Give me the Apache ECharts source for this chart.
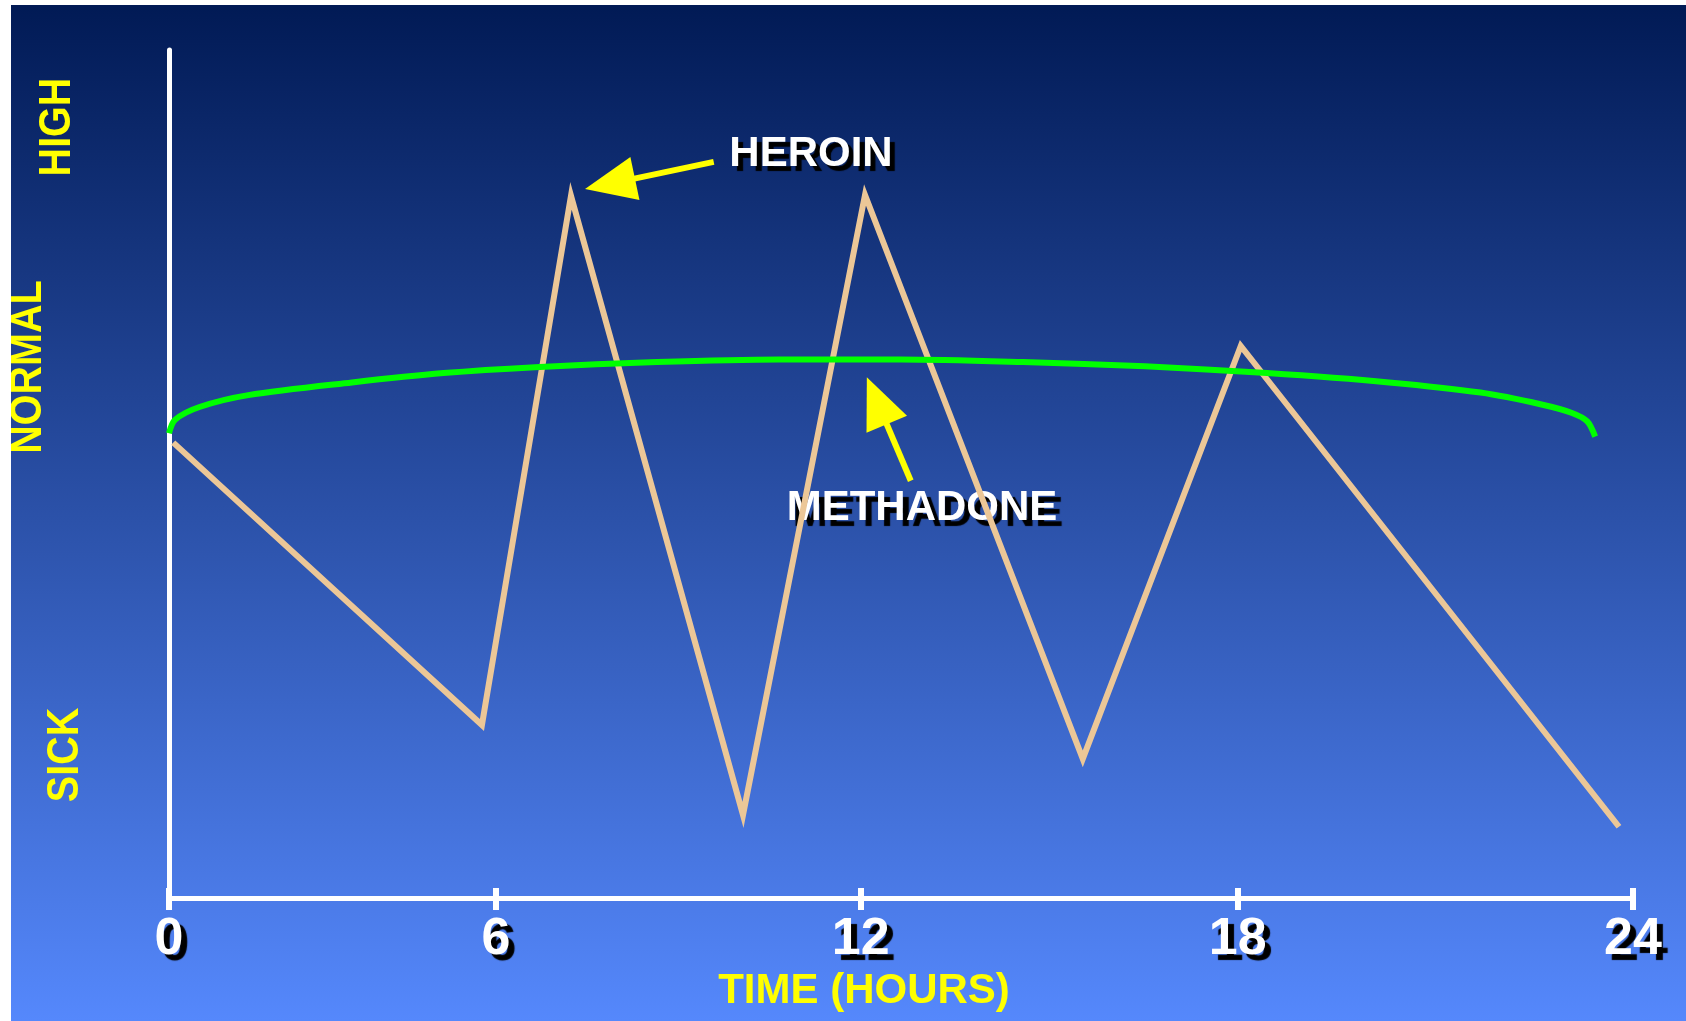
<!DOCTYPE html>
<html>
<head>
<meta charset="utf-8">
<title>Heroin vs Methadone</title>
<script src="https://cdn.jsdelivr.net/npm/echarts@6/dist/echarts.min.js"></script>
<style>
  html, body { margin: 0; padding: 0; background: #ffffff; width: 1686px; height: 1021px; overflow: hidden; }
  #chart { position: absolute; left: 11px; top: 5px; width: 1675px; height: 1016px; }
</style>
</head>
<body>
<div id="chart"></div>
<script>
// Hour ticks along the time axis (as drawn on the slide) and their labels
const tickPos = [0, 5.36, 11.34, 17.52, 24];
const tickLabels = ['0', '6', '12', '18', '24'];

// Heroin: sharp highs and sick lows between doses
const heroinX = [0.07, 5.13, 6.59, 9.41, 11.41, 14.98, 17.57, 23.77];
const heroinY = [53.7, 20.4, 82.8, 9.8, 82.9, 16.4, 65.1, 8.4];

// Methadone: a steady level through the day
const methadoneX = [0, 0.1, 0.5, 1.3, 3.0, 4.5, 6.0, 8.0, 10.0, 12.0, 14.0, 16.0, 18.0, 20.0, 21.5, 22.5, 23.0, 23.25, 23.38];
const methadoneY = [54.8, 56.4, 57.9, 59.3, 60.8, 61.9, 62.6, 63.2, 63.5, 63.5, 63.2, 62.7, 61.9, 60.8, 59.6, 58.2, 57.2, 56.2, 54.4];

// Callout arrows: [tailX, tailY, tipX, tipY]
const heroinArrow = [8.93, 86.8, 6.82, 83.6];
const methadoneArrow = [12.16, 49.2, 11.44, 61.4];

const FONT = "'Liberation Sans', Arial, Helvetica, sans-serif";
const YELLOW = '#ffff00';

const zip = (xs, ys) => xs.map((x, i) => [x, ys[i]]);

const chart = echarts.init(document.getElementById('chart'), null, { renderer: 'canvas' });

function renderArrow(params, api) {
  const a = api.coord([api.value(0), api.value(1)]);
  const b = api.coord([api.value(2), api.value(3)]);
  const dx = b[0] - a[0], dy = b[1] - a[1];
  const len = Math.hypot(dx, dy);
  const ux = dx / len, uy = dy / len;
  const headLen = 51, headHalf = 22;
  const base = [b[0] - ux * headLen, b[1] - uy * headLen];
  return {
    type: 'group',
    children: [
      {
        type: 'line',
        shape: { x1: a[0], y1: a[1], x2: base[0] + ux * 3, y2: base[1] + uy * 3 },
        style: { stroke: YELLOW, lineWidth: 6 }
      },
      {
        type: 'polygon',
        shape: { points: [b, [base[0] - uy * headHalf, base[1] + ux * headHalf], [base[0] + uy * headHalf, base[1] - ux * headHalf]] },
        style: { fill: YELLOW }
      }
    ]
  };
}

const sideLabel = (text, x, y) => ({
  type: 'text',
  x: x, y: y,
  rotation: Math.PI / 2,
  scaleY: 1.12,
  style: {
    text: text,
    fill: YELLOW,
    font: 'bold 39.5px ' + FONT,
    textAlign: 'center',
    textVerticalAlign: 'middle'
  }
});

const callout = (text, x, y, off) => ({
  type: 'text',
  x: x, y: y,
  style: {
    text: text,
    fill: '#ffffff',
    font: 'bold 42px ' + FONT,
    textAlign: 'center',
    textVerticalAlign: 'middle',
    textShadowColor: '#000000',
    textShadowOffsetX: off,
    textShadowOffsetY: off,
    textShadowBlur: 1
  }
});

const option = {
  animation: false,
  backgroundColor: {
    type: 'linear', x: 0, y: 0, x2: 0, y2: 1,
    colorStops: [
      { offset: 0, color: '#011a55' },
      { offset: 1, color: '#5588fc' }
    ]
  },
  grid: { left: 158, right: 53, top: 45, bottom: 123, containLabel: false },
  xAxis: [
    {
      type: 'value', min: 0, max: 24, position: 'bottom',
      axisLine: { show: true, lineStyle: { color: '#ffffff', width: 5 } },
      axisTick: { show: true, inside: false, length: 12, customValues: tickPos, lineStyle: { color: '#ffffff', width: 6 } },
      axisLabel: {
        show: true,
        customValues: tickPos,
        formatter: (v) => tickLabels[tickPos.indexOf(v)],
        margin: 16,
        color: '#ffffff',
        fontFamily: FONT,
        fontWeight: 'bold',
        fontSize: 52,
        textShadowColor: '#000000',
        textShadowOffsetX: 6,
        textShadowOffsetY: 6,
        textShadowBlur: 1
      },
      splitLine: { show: false }
    },
    {
      type: 'value', min: 0, max: 24, position: 'bottom',
      axisLine: { show: false },
      axisTick: { show: true, inside: true, length: 10, customValues: tickPos, lineStyle: { color: '#ffffff', width: 6 } },
      axisLabel: { show: false },
      splitLine: { show: false }
    }
  ],
  yAxis: {
    type: 'value', min: 0, max: 100,
    axisLine: { show: true, lineStyle: { color: '#ffffff', width: 5 } },
    axisTick: { show: false },
    axisLabel: { show: false },
    splitLine: { show: false }
  },
  graphic: [
    sideLabel('HIGH', 47, 122),
    sideLabel('NORMAL', 18, 362),
    sideLabel('SICK', 55, 750),
    callout('HEROIN', 800, 149, 5),
    callout('METHADONE', 911, 503, 6),
    {
      type: 'text',
      x: 853, y: 986,
      style: {
        text: 'TIME (HOURS)',
        fill: YELLOW,
        font: 'bold 42px ' + FONT,
        textAlign: 'center',
        textVerticalAlign: 'middle'
      }
    }
  ],
  series: [
    {
      name: 'Heroin',
      type: 'line',
      data: zip(heroinX, heroinY),
      symbol: 'none',
      smooth: false,
      clip: false,
      lineStyle: { color: '#ecc797', width: 6, cap: 'butt', join: 'miter' },
      z: 3
    },
    {
      name: 'Methadone',
      type: 'line',
      data: zip(methadoneX, methadoneY),
      symbol: 'none',
      smooth: 0.3,
      clip: false,
      lineStyle: { color: '#00ff00', width: 6 },
      z: 4
    },
    {
      name: 'Callouts',
      type: 'custom',
      renderItem: renderArrow,
      clip: false,
      encode: { x: [0, 2], y: [1, 3] },
      data: [heroinArrow, methadoneArrow],
      z: 5
    }
  ]
};

chart.setOption(option);
</script>
</body>
</html>
